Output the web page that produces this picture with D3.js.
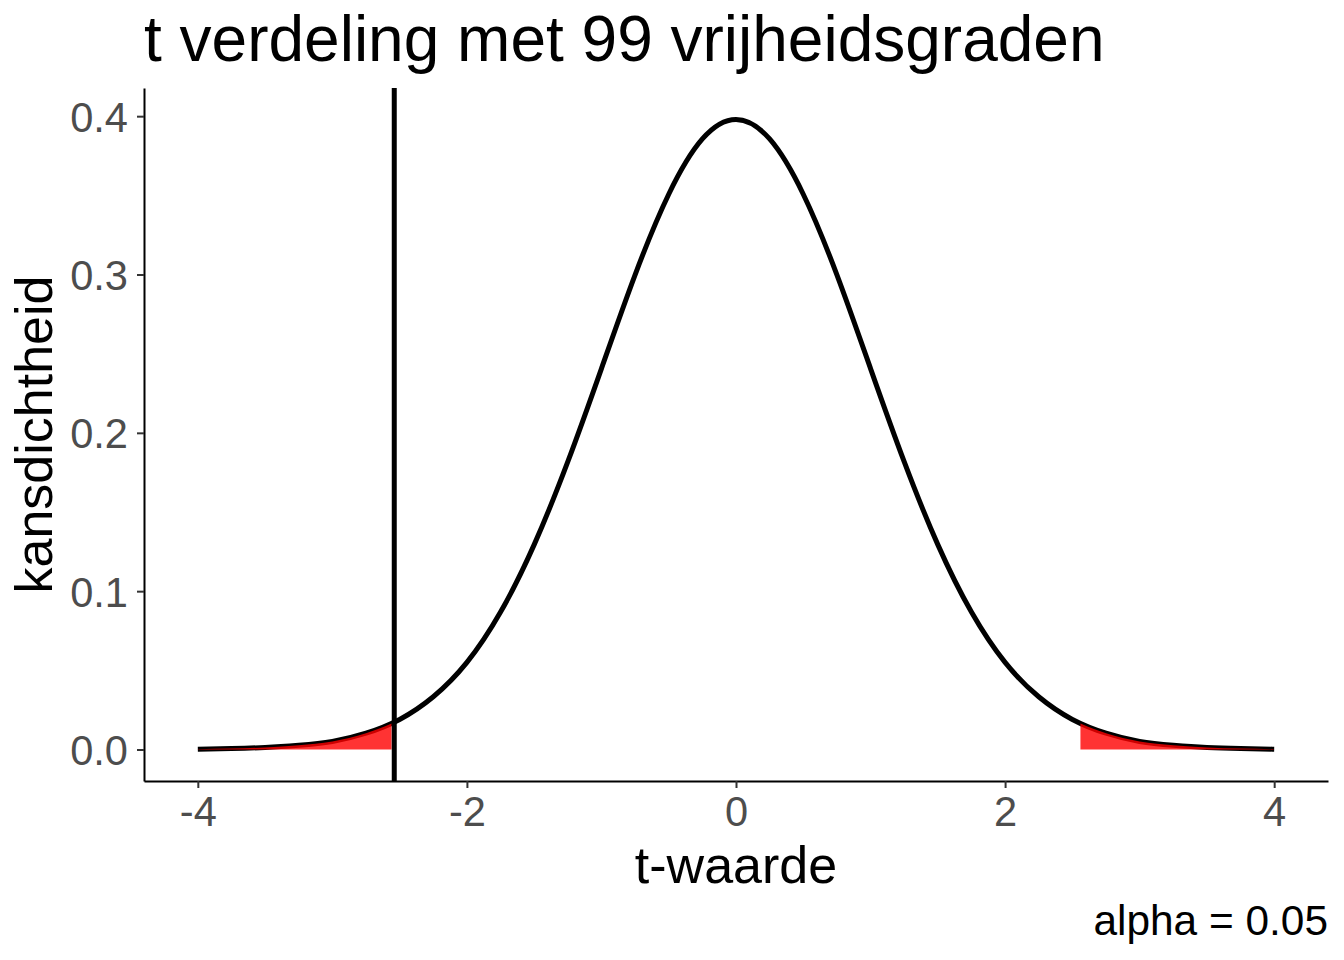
<!DOCTYPE html>
<html>
<head>
<meta charset="utf-8">
<script src="https://cdn.jsdelivr.net/npm/d3@7"></script>
<style>
    body { margin: 0; background: #ffffff; }
    text { font-family: "Liberation Sans", Arial, Helvetica, sans-serif; }
</style>
</head>
<body>
<script>
//=====================================================================//
//  DATA
//=====================================================================//

    // t values along the x axis and the density read at each of them
    var tValues = [-4, -3.75, -3.5, -3.25, -3, -2.75, -2.5, -2.25, -2, -1.75, -1.5, -1.25, -1, -0.75, -0.5, -0.25,
                   0, 0.25, 0.5, 0.75, 1, 1.25, 1.5, 1.75, 2, 2.25, 2.5, 2.75, 3, 3.25, 3.5, 3.75, 4];
    var densValues = [0.0002, 0.0006, 0.0013, 0.0027, 0.0051, 0.0103, 0.0190, 0.0333, 0.0550, 0.0868, 0.1294, 0.1818, 0.2406, 0.2998, 0.3507, 0.3856,
                      0.3979, 0.3856, 0.3507, 0.2998, 0.2406, 0.1818, 0.1294, 0.0868, 0.0550, 0.0333, 0.0190, 0.0103, 0.0051, 0.0027, 0.0013, 0.0006, 0.0002];

    // shaded tails (beyond |t| = 2.56)
    var leftTailT = [-4, -3.75, -3.5, -3.25, -3, -2.75, -2.56];
    var leftTailD = [0.0002, 0.0006, 0.0013, 0.0027, 0.0051, 0.0103, 0.0165];
    var rightTailT = [2.56, 2.75, 3, 3.25, 3.5, 3.75, 4];
    var rightTailD = [0.0165, 0.0103, 0.0051, 0.0027, 0.0013, 0.0006, 0.0002];

    // observed t value (vertical line)
    var tObserved = -2.54;

    var xTicks = [-4, -2, 0, 2, 4];
    var yTicks = [0, 0.1, 0.2, 0.3, 0.4];

    var titleText = "t verdeling met 99 vrijheidsgraden";
    var xTitle = "t-waarde";
    var yTitle = "kansdichtheid";
    var captionText = "alpha = 0.05";

//=====================================================================//
//  INITIALIZATION OF GRAPH
//=====================================================================//

    var totalW = 1344, totalH = 960;
    var margin = {left: 144, right: 16, top: 88, bottom: 179},
        width = totalW - margin.left - margin.right,
        height = totalH - margin.top - margin.bottom;

    var root = d3.select("body")
        .append("svg")
        .attr("width", totalW)
        .attr("height", totalH);

    root.append("rect")
        .attr("width", totalW)
        .attr("height", totalH)
        .attr("fill", "#ffffff");

    var svg = root.append("g")
        .attr("transform", "translate(" + margin.left + "," + margin.top + ")");

    var curve = tValues.map(function(t, i) { return {t: t, d: densValues[i]}; });
    var leftTail = leftTailT.map(function(t, i) { return {t: t, d: leftTailD[i]}; });
    var rightTail = rightTailT.map(function(t, i) { return {t: t, d: rightTailD[i]}; });

    // ggplot style 5% expansion on both axes
    var xMin = d3.min(tValues), xMax = d3.max(tValues);
    var xPad = (xMax - xMin) * 0.05;
    var x = d3.scaleLinear()
        .domain([xMin - xPad, xMax + xPad])
        .range([0, width]);

    var yMax = d3.max(densValues);
    var yPad = yMax * 0.05;
    var y = d3.scaleLinear()
        .domain([0 - yPad, yMax + yPad])
        .range([height, 0]);

//=====================================================================//
//  MARKS
//=====================================================================//

    var line = d3.line()
        .x(function(d) { return x(d.t); })
        .y(function(d) { return y(d.d); })
        .curve(d3.curveNatural);

    var area = d3.area()
        .x(function(d) { return x(d.t); })
        .y0(y(0))
        .y1(function(d) { return y(d.d); })
        .curve(d3.curveMonotoneX);

    // density curve
    svg.append("path")
        .datum(curve)
        .attr("d", line)
        .attr("fill", "none")
        .attr("stroke", "#000000")
        .attr("stroke-width", 5)
        .attr("stroke-linejoin", "round");

    // red tails, drawn over the curve like the original
    svg.selectAll(".tail")
        .data([leftTail, rightTail])
        .join("path")
            .attr("class", "tail")
            .attr("d", area)
            .attr("fill", "red")
            .attr("fill-opacity", 0.8);

    // observed t value
    svg.append("line")
        .attr("x1", x(tObserved))
        .attr("x2", x(tObserved))
        .attr("y1", 0)
        .attr("y2", height)
        .attr("stroke", "#000000")
        .attr("stroke-width", 5);

//=====================================================================//
//  AXES
//=====================================================================//

    var xAxis = svg.append("g")
        .attr("transform", "translate(0," + height + ")")
        .call(d3.axisBottom(x).tickValues(xTicks).tickSize(7).tickSizeOuter(0).tickPadding(8)
              .tickFormat(function(d) { return String(d); }));

    var yAxis = svg.append("g")
        .call(d3.axisLeft(y).tickValues(yTicks).tickSize(7).tickSizeOuter(0).tickPadding(9)
              .tickFormat(d3.format(".1f")));

    [xAxis, yAxis].forEach(function(ax) {
        ax.select(".domain").attr("stroke", "#000000").attr("stroke-width", 2);
        ax.selectAll(".tick line").attr("stroke", "#333333").attr("stroke-width", 2);
        ax.selectAll(".tick text")
            .attr("fill", "#4d4d4d")
            .style("font-size", "41.6px")
            .style("font-family", "'Liberation Sans', Arial, sans-serif");
    });
    xAxis.selectAll(".tick text").attr("dy", "0.72em");
    yAxis.selectAll(".tick text").attr("dy", "0.36em");

//=====================================================================//
//  TEXTS
//=====================================================================//

    root.append("text")
        .attr("x", margin.left)
        .attr("y", 61)
        .style("font-size", "64px")
        .attr("fill", "#000000")
        .text(titleText);

    root.append("text")
        .attr("x", margin.left + width / 2)
        .attr("y", 883)
        .attr("text-anchor", "middle")
        .style("font-size", "52px")
        .attr("fill", "#000000")
        .text(xTitle);

    root.append("text")
        .attr("transform", "translate(52," + (margin.top + height / 2) + ") rotate(-90)")
        .attr("text-anchor", "middle")
        .style("font-size", "52px")
        .attr("fill", "#000000")
        .text(yTitle);

    root.append("text")
        .attr("x", margin.left + width)
        .attr("y", 935)
        .attr("text-anchor", "end")
        .style("font-size", "42.4px")
        .attr("fill", "#000000")
        .text(captionText);
</script>
</body>
</html>
